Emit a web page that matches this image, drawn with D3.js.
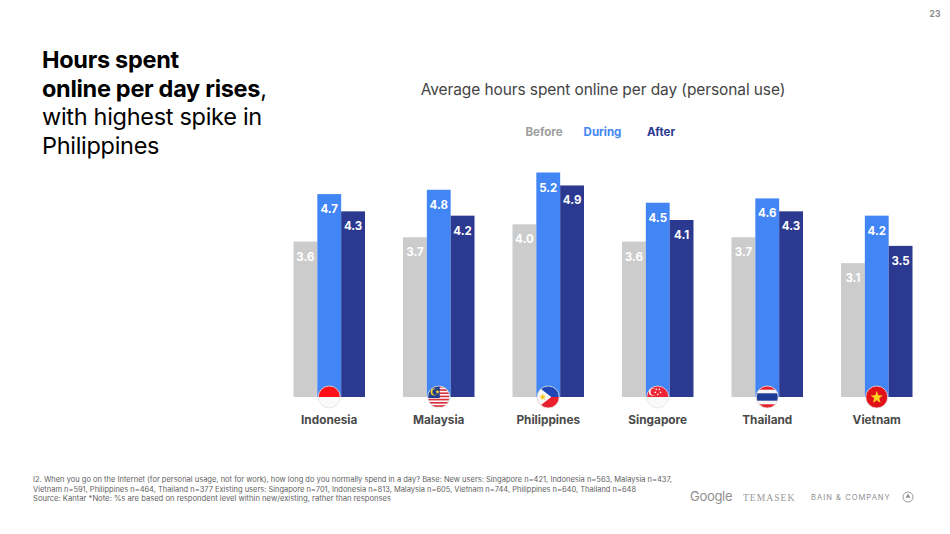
<!DOCTYPE html>
<html>
<head>
<meta charset="utf-8">
<script src="https://cdn.jsdelivr.net/npm/d3@7"></script>
<style>
  html, body { margin: 0; padding: 0; background: #fff; }
  text { font-family: Inter, Roboto, sans-serif; }
</style>
</head>
<body>
<div id="chart"></div>
<script>
const countries = ["Indonesia", "Malaysia", "Philippines", "Singapore", "Thailand", "Vietnam"];
const seriesNames = ["Before", "During", "After"];
const before = [3.6, 3.7, 4.0, 3.6, 3.7, 3.1];
const during = [4.7, 4.8, 5.2, 4.5, 4.6, 4.2];
const after = [4.3, 4.2, 4.9, 4.1, 4.3, 3.5];
const seriesValues = [before, during, after];
const seriesColors = ["#cccccc", "#4285f4", "#2b3990"];
const legendColors = ["#9e9e9e", "#4285f4", "#2b3990"];
const titleLines = [
    { text: "Hours spent", weight: 700 },
    { text: "online per day rises", weight: 700, tail: "," },
    { text: "with highest spike in", weight: 400 },
    { text: "Philippines", weight: 400 }
];
const footnoteLines = [
    "I2. When you go on the Internet (for personal usage, not for work), how long do you normally spend in a day? Base: New users: Singapore n=421, Indonesia n=563, Malaysia n=437,",
    "Vietnam n=591, Philippines n=464, Thailand n=377 Existing users: Singapore n=701, Indonesia n=813, Malaysia n=605, Vietnam n=744, Philippines n=640, Thailand n=648",
    "Source: Kantar  *Note: %s are based on respondent level within new/existing, rather than responses"
];
const footnoteWidths = [639, 603, 358];

const width = 950, height = 534;

const svg = d3.select("#chart")
    .append("svg")
    .attr("width", width)
    .attr("height", height)
    .style("display", "block");

// scales
const x = d3.scaleBand()
    .domain(countries)
    .range([293.5, 912.5])
    .paddingInner(0.347)
    .paddingOuter(0);
const xInner = d3.scaleBand()
    .domain(seriesNames)
    .range([0, x.bandwidth()]);
const y = d3.scaleLinear()
    .domain([0, 5.2])
    .range([397, 172.5]);

// page number
svg.append("text")
    .attr("x", 935).attr("y", 17)
    .attr("text-anchor", "middle")
    .attr("font-size", 8.5).attr("font-weight", 700)
    .attr("fill", "#8a8a8a")
    .text("23");

// headline
const title = svg.append("g");
titleLines.forEach((line, i) => {
    const t = title.append("text")
        .attr("x", 42).attr("y", 68 + i * 28.7)
        .attr("font-size", 23.5)
        .attr("font-weight", line.weight)
        .attr("letter-spacing", -0.3)
        .attr("fill", "#000")
        .text(line.text);
    if (line.tail) t.append("tspan").attr("font-weight", 400).text(line.tail);
});

// chart title + legend
svg.append("text")
    .attr("x", 603).attr("y", 95)
    .attr("text-anchor", "middle")
    .attr("font-size", 15.5)
    .attr("letter-spacing", -0.1)
    .attr("fill", "#444")
    .text("Average hours spent online per day (personal use)");

const legendX = d3.scalePoint().domain(seriesNames).range([544, 661]);
svg.append("g").selectAll("text")
    .data(seriesNames)
    .join("text")
    .attr("x", d => legendX(d))
    .attr("y", 135.5)
    .attr("text-anchor", "middle")
    .attr("font-size", 11.5)
    .attr("font-weight", 700)
    .attr("fill", (d, i) => legendColors[i])
    .text(d => d);

// bars
const groups = svg.append("g").selectAll("g")
    .data(countries)
    .join("g")
    .attr("transform", d => `translate(${x(d)},0)`);

seriesNames.forEach((name, s) => {
    const vals = seriesValues[s];
    groups.append("rect")
        .attr("x", xInner(name))
        .attr("y", (d, i) => y(vals[i]))
        .attr("width", xInner.bandwidth())
        .attr("height", (d, i) => y(0) - y(vals[i]))
        .attr("fill", seriesColors[s]);
    groups.append("text")
        .attr("x", xInner(name) + xInner.bandwidth() / 2)
        .attr("y", (d, i) => y(vals[i]) + 19)
        .attr("text-anchor", "middle")
        .attr("font-size", 11.5)
        .attr("font-weight", 700)
        .attr("fill", "#fff")
        .text((d, i) => vals[i].toFixed(1));
});

// country labels
svg.append("g").selectAll("text")
    .data(countries)
    .join("text")
    .attr("x", d => x(d) + x.bandwidth() / 2)
    .attr("y", 424)
    .attr("text-anchor", "middle")
    .attr("font-size", 11.8)
    .attr("font-weight", 700)
    .attr("fill", "#4a4a4a")
    .text(d => d);

// flags, drawn in a 22x22 box centred on 0,0
const r = 11;
const defs = svg.append("defs");
defs.append("clipPath").attr("id", "flagClip").append("circle").attr("r", r);

function stripes(g, rows) {
    rows.forEach(s => g.append("rect")
        .attr("x", -r).attr("width", 2 * r)
        .attr("y", s[0]).attr("height", s[1]).attr("fill", s[2]));
}
function star(g, cx, cy, outer, fill) {
    const pts = d3.range(10).map(i => {
        const a = -Math.PI / 2 + i * Math.PI / 5;
        const rad = i % 2 ? outer * 0.42 : outer;
        return [cx + rad * Math.cos(a), cy + rad * Math.sin(a)];
    });
    g.append("polygon").attr("points", pts.join(" ")).attr("fill", fill);
}
const flags = {
    Indonesia(g) {
        stripes(g, [[-r, r, "#ff0f17"], [0, r, "#fafafa"]]);
    },
    Malaysia(g) {
        stripes(g, [[-r, 2 * r, "#f5f5f5"]]);
        d3.range(0, 7).forEach(i => stripes(g, [[-r + i * 3.2, 1.6, "#d9303a"]]));
        g.append("rect").attr("x", -r).attr("y", -r).attr("width", r + 1).attr("height", r + 1).attr("fill", "#1f3c8f");
        g.append("circle").attr("cx", -4.5).attr("cy", -5).attr("r", 3.6).attr("fill", "#ffd21f");
        g.append("circle").attr("cx", -3.4).attr("cy", -5).attr("r", 3).attr("fill", "#1f3c8f");
        star(g, -1.2, -5, 2.3, "#ffd21f");
    },
    Philippines(g) {
        stripes(g, [[-r, r, "#1f46b4"], [0, r, "#e8202c"]]);
        g.append("polygon").attr("points", `${-r},${-r} 3,0 ${-r},${r}`).attr("fill", "#f7f7f7");
        star(g, -5.5, 0, 3.6, "#f6c81e");
    },
    Singapore(g) {
        stripes(g, [[-r, r, "#ee2536"], [0, r, "#fafafa"]]);
        g.append("circle").attr("cx", -5).attr("cy", -5).attr("r", 3.8).attr("fill", "#fafafa");
        g.append("circle").attr("cx", -3.8).attr("cy", -5).attr("r", 3.4).attr("fill", "#ee2536");
        [[-1.4, -7.6], [1.6, -7.6], [-2.6, -4.6], [2.8, -4.6], [0.1, -2.6]].forEach(p =>
            g.append("circle").attr("cx", p[0]).attr("cy", p[1]).attr("r", 0.8).attr("fill", "#fafafa"));
    },
    Thailand(g) {
        stripes(g, [[-r, 22, "#e8202c"], [-7.3, 14.6, "#f7f7f7"], [-3.7, 7.4, "#1e3a94"]]);
    },
    Vietnam(g) {
        stripes(g, [[-r, 22, "#e1111a"]]);
        star(g, 0, 0.5, 6.4, "#ffd21f");
    }
};
countries.forEach(c => {
    const g = svg.append("g")
        .attr("transform", `translate(${x(c) + x.bandwidth() / 2},397)`);
    const inner = g.append("g").attr("clip-path", "url(#flagClip)");
    flags[c](inner);
    g.append("circle").attr("r", r)
        .attr("fill", "none").attr("stroke", "#e4e4e4").attr("stroke-width", 0.8);
});

// footnote
svg.append("g").selectAll("text")
    .data(footnoteLines)
    .join("text")
    .attr("x", 33)
    .attr("y", (d, i) => 482 + i * 9.6)
    .attr("font-size", 7.4)
    .attr("textLength", (d, i) => footnoteWidths[i])
    .attr("lengthAdjust", "spacingAndGlyphs")
    .attr("fill", "#5f5f5f")
    .text(d => d);

// logos
svg.append("text")
    .attr("x", 690).attr("y", 501)
    .attr("font-size", 13).attr("fill", "#8f8f8f")
    .attr("letter-spacing", -0.3)
    .text("Google");
svg.append("text")
    .attr("x", 743).attr("y", 500.5)
    .style("font-family", "'Liberation Serif', serif")
    .attr("font-size", 9.6).attr("fill", "#9a9a9a")
    .attr("letter-spacing", 1)
    .text("TEMASEK");
svg.append("text")
    .attr("x", 811).attr("y", 500)
    .attr("font-size", 7.6).attr("fill", "#8f8f8f")
    .attr("letter-spacing", 1)
    .text("BAIN & COMPANY");
svg.append("circle")
    .attr("cx", 908).attr("cy", 497).attr("r", 5)
    .attr("fill", "none").attr("stroke", "#8f8f8f").attr("stroke-width", 0.9);
svg.append("polygon")
    .attr("points", "908,493.5 905.6,497.8 910.4,497.8")
    .attr("fill", "#8f8f8f");
</script>
</body>
</html>
